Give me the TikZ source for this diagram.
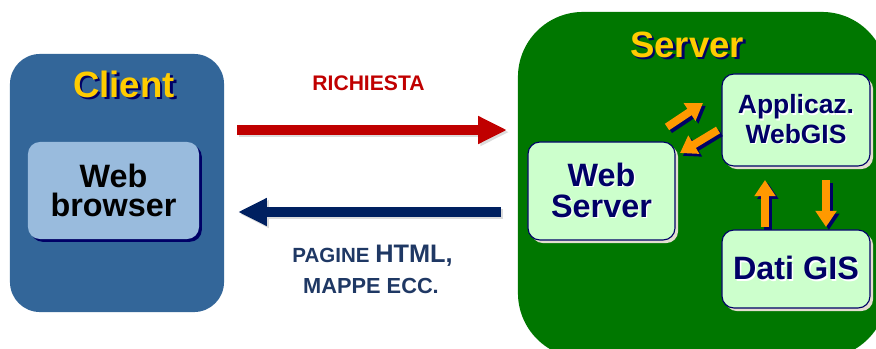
\documentclass[tikz,border=0pt]{standalone}
\usepackage{fontspec}
\setmainfont{Liberation Sans}
\usetikzlibrary{arrows.meta,shadows}

\definecolor{clientblue}{RGB}{51,102,153}
\definecolor{browserblue}{RGB}{153,187,221}
\definecolor{servergreen}{RGB}{0,119,0}
\definecolor{boxgreen}{RGB}{204,255,204}
\definecolor{navy}{RGB}{0,0,102}
\definecolor{titleyellow}{RGB}{255,204,0}
\definecolor{reqred}{RGB}{192,0,0}
\definecolor{respblue}{RGB}{0,32,96}
\definecolor{labelblue}{RGB}{31,56,100}
\definecolor{gisorange}{RGB}{255,153,0}
\definecolor{beige}{RGB}{228,222,208}
\definecolor{arrowshade}{RGB}{220,220,220}

% text with a drop shadow: colour, offset, text
\newcommand{\dropsh}[3]{\rlap{\kern#2\raisebox{-#2}{\color{#1}#3}}#3}

\begin{document}
\begin{tikzpicture}[
    x=0.025cm, y=-0.025cm,
    bigbox/.style={inner sep=0pt},
    title/.style={anchor=base, text=titleyellow, font=\fontsize{26}{26}\selectfont\bfseries},
    srvbox/.style={draw=navy, line width=0.8pt, fill=boxgreen, rounded corners=0.3cm,
        text=navy, align=center, inner sep=0pt,
        drop shadow={shadow xshift=2.2pt, shadow yshift=-2.2pt, fill=beige, opacity=1}},
    bigarrow/.style={line width=7pt, -{Triangle[length=20.5pt, width=18.5pt]}},
    gisarrow/.style={line width=5.5pt, -{Triangle[length=11.5pt, width=14.5pt]}}
]
\clip (0,0) rectangle (876,349);

% client side
\node[bigbox, fill=clientblue, minimum width=5.35cm, minimum height=6.45cm,
    rounded corners=0.75cm] (client) at (117,183) {};
\node[title] (clienttitle) at (124,97) {\dropsh{navy}{1.8pt}{Client}};
\node[inner sep=0pt, fill=browserblue, rounded corners=0.3cm, align=center,
    minimum width=4.275cm, minimum height=2.425cm,
    font=\fontsize{23}{21}\selectfont\bfseries,
    drop shadow={shadow xshift=2pt, shadow yshift=-2pt, fill=navy, opacity=1}]
    (browser) at (113.5,190.5) {Web\\browser};

% server side
\node[bigbox, fill=servergreen, minimum width=9.225cm, minimum height=8.65cm,
    rounded corners=1.625cm] (server) at (702.5,185) {};
\node[title] (servertitle) at (687,57) {\dropsh{navy}{1.8pt}{Server}};
\node[srvbox, minimum width=3.675cm, minimum height=2.45cm,
    font=\fontsize{23}{22}\selectfont\bfseries] (websrv) at (601.5,191)
    {\dropsh{white}{1pt}{Web}\\\dropsh{white}{1pt}{Server}};
\node[srvbox, minimum width=3.7cm, minimum height=2.3cm,
    font=\fontsize{18.8}{21}\selectfont\bfseries] (webgis) at (796,120)
    {\dropsh{white}{1pt}{Applicaz.}\\\dropsh{white}{1pt}{WebGIS}};
\node[srvbox, minimum width=3.7cm, minimum height=1.95cm,
    font=\fontsize{23}{23}\selectfont\bfseries] (gisdata) at (796,269)
    {\dropsh{white}{1pt}{Dati GIS}};

% request / response
\coordinate (reqA) at (237,130);
\coordinate (reqB) at (507,130);
\coordinate (respA) at (501,212);
\coordinate (respB) at (238,212);
\draw[bigarrow, arrowshade, transform canvas={shift={(1.5pt,-1.5pt)}}] (reqA) -- (reqB);
\draw[bigarrow, reqred] (reqA) -- (reqB);
\draw[bigarrow, arrowshade, transform canvas={shift={(1.5pt,-1.5pt)}}] (respA) -- (respB);
\draw[bigarrow, respblue] (respA) -- (respB);
\node[anchor=base, text=reqred, font=\fontsize{15}{15}\selectfont\bfseries]
    (reqlabel) at (368.5,90) {RICHIESTA};
\node[anchor=base, text=labelblue, font=\bfseries] (resplabel) at (372.5,262)
    {\fontsize{14.6}{15}\selectfont PAGINE \fontsize{18}{18}\selectfont HTML,};
\node[anchor=base, text=labelblue, font=\fontsize{15.5}{16}\selectfont\bfseries]
    (resplabelb) at (371,293) {MAPPE ECC.};

% orange arrows inside the server
\coordinate (g1a) at (667,127);
\coordinate (g1b) at (703,103);
\coordinate (g2a) at (718,130);
\coordinate (g2b) at (680,153);
\coordinate (g3a) at (765,227);
\coordinate (g3b) at (765,180);
\coordinate (g4a) at (826,180);
\coordinate (g4b) at (826,227);
\foreach \s/\e in {g1a/g1b, g2a/g2b, g3a/g3b, g4a/g4b} {
    \draw[gisarrow, navy, transform canvas={shift={(2pt,-2pt)}}] (\s) -- (\e);
    \draw[gisarrow, gisorange] (\s) -- (\e);
}
\end{tikzpicture}
\end{document}
